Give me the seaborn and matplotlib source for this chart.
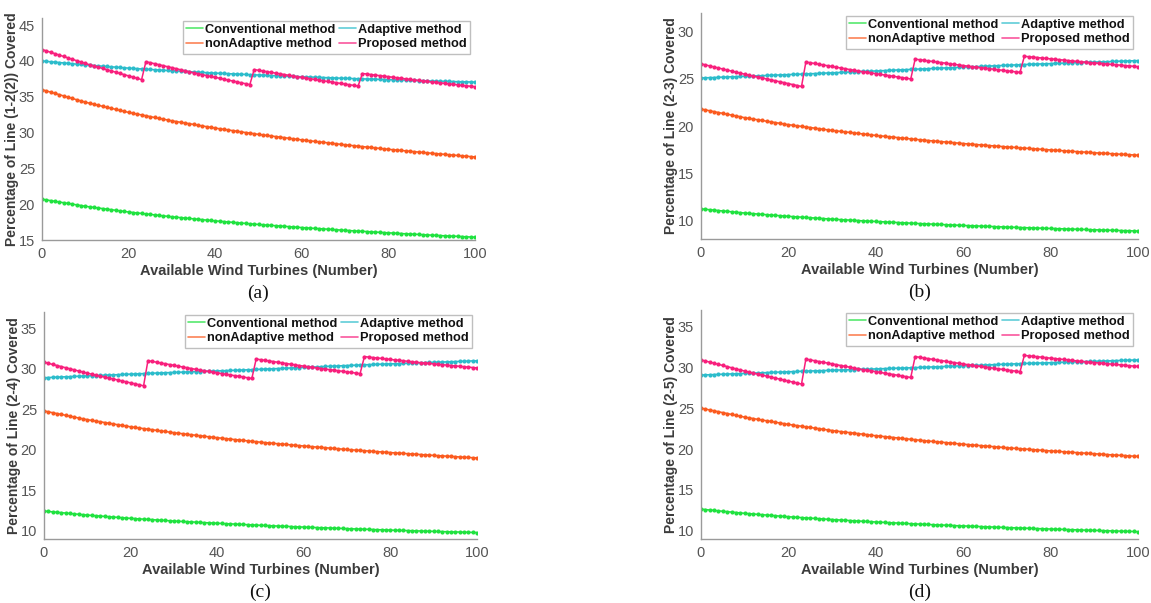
import matplotlib
matplotlib.use("Agg")
import matplotlib.pyplot as plt
from matplotlib.lines import Line2D
import seaborn as sns
import pandas as pd

# x axis: available wind turbines 0..100
turbines = list(range(101))
methods = ["Conventional method", "nonAdaptive method", "Adaptive method", "Proposed method"]
colors = ["#1fe23f", "#fb5a1e", "#2bbccb", "#f81f7c"]

# (a) line 1-2(2)
a_conventional = [
    20.70, 20.60, 20.50, 20.40, 20.30, 20.21, 20.11, 20.01, 19.91, 19.81,
    19.71, 19.63, 19.55, 19.47, 19.39, 19.31, 19.23, 19.15, 19.07, 18.99,
    18.91, 18.84, 18.78, 18.71, 18.64, 18.58, 18.51, 18.44, 18.37, 18.31,
    18.24, 18.18, 18.13, 18.07, 18.01, 17.96, 17.90, 17.84, 17.78, 17.73,
    17.67, 17.62, 17.57, 17.52, 17.47, 17.42, 17.37, 17.32, 17.27, 17.22,
    17.17, 17.13, 17.08, 17.04, 17.00, 16.96, 16.91, 16.87, 16.83, 16.78,
    16.74, 16.70, 16.66, 16.62, 16.59, 16.55, 16.51, 16.47, 16.43, 16.39,
    16.35, 16.32, 16.28, 16.25, 16.21, 16.18, 16.14, 16.11, 16.07, 16.04,
    16.00, 15.97, 15.94, 15.90, 15.87, 15.84, 15.81, 15.78, 15.74, 15.71,
    15.68, 15.65, 15.62, 15.59, 15.56, 15.54, 15.51, 15.48, 15.45, 15.42, 15.40]
a_nonadaptive = [
    36.00, 35.82, 35.65, 35.47, 35.30, 35.12, 34.94, 34.77, 34.59, 34.42,
    34.24, 34.10, 33.96, 33.81, 33.67, 33.53, 33.39, 33.25, 33.10, 32.96,
    32.82, 32.70, 32.58, 32.47, 32.35, 32.23, 32.11, 31.99, 31.88, 31.76,
    31.64, 31.54, 31.44, 31.34, 31.24, 31.14, 31.03, 30.93, 30.83, 30.73,
    30.63, 30.54, 30.45, 30.37, 30.28, 30.19, 30.10, 30.01, 29.93, 29.84,
    29.75, 29.67, 29.60, 29.52, 29.44, 29.37, 29.29, 29.21, 29.13, 29.06,
    28.98, 28.91, 28.84, 28.77, 28.70, 28.64, 28.57, 28.50, 28.43, 28.36,
    28.29, 28.23, 28.17, 28.10, 28.04, 27.98, 27.92, 27.86, 27.79, 27.73,
    27.67, 27.61, 27.56, 27.50, 27.45, 27.39, 27.33, 27.28, 27.22, 27.17,
    27.11, 27.06, 27.01, 26.96, 26.91, 26.86, 26.80, 26.75, 26.70, 26.65, 26.60]
a_adaptive = [
    40.00, 39.95, 39.89, 39.84, 39.78, 39.73, 39.67, 39.62, 39.56, 39.51,
    39.45, 39.41, 39.36, 39.32, 39.27, 39.23, 39.18, 39.14, 39.09, 39.05,
    39.00, 38.96, 38.93, 38.89, 38.85, 38.82, 38.78, 38.74, 38.70, 38.67,
    38.63, 38.60, 38.57, 38.53, 38.50, 38.47, 38.44, 38.41, 38.37, 38.34,
    38.31, 38.28, 38.26, 38.23, 38.20, 38.18, 38.15, 38.12, 38.09, 38.07,
    38.04, 38.02, 37.99, 37.97, 37.94, 37.92, 37.90, 37.87, 37.85, 37.82,
    37.80, 37.78, 37.76, 37.73, 37.71, 37.69, 37.67, 37.65, 37.62, 37.60,
    37.58, 37.56, 37.54, 37.52, 37.50, 37.49, 37.47, 37.45, 37.43, 37.41,
    37.39, 37.37, 37.35, 37.34, 37.32, 37.30, 37.28, 37.26, 37.25, 37.23,
    37.21, 37.19, 37.18, 37.16, 37.15, 37.13, 37.11, 37.10, 37.08, 37.07, 37.05]
a_proposed = [
    41.60, 41.41, 41.21, 41.02, 40.82, 40.63, 40.43, 40.24, 40.04, 39.85, 39.65,
    39.48, 39.30, 39.13, 38.96, 38.78, 38.61, 38.44, 38.26, 38.09, 37.92, 37.75, 37.57, 37.40,
    39.90, 39.76, 39.62, 39.48, 39.34, 39.20, 39.06, 38.92, 38.78, 38.64, 38.50, 38.36, 38.22,
    38.09, 37.97, 37.84, 37.71, 37.59, 37.46, 37.33, 37.21, 37.08, 36.95, 36.83, 36.70,
    38.80, 38.70, 38.60, 38.50, 38.40, 38.30, 38.20, 38.10, 38.00, 37.90, 37.80, 37.70, 37.60,
    37.51, 37.42, 37.32, 37.23, 37.14, 37.05, 36.96, 36.86, 36.77, 36.68, 36.59, 36.50,
    38.25, 38.18, 38.10, 38.03, 37.95, 37.88, 37.80, 37.73, 37.65, 37.58, 37.50, 37.43, 37.35, 37.28,
    37.21, 37.14, 37.07, 37.00, 36.94, 36.87, 36.80, 36.73, 36.67, 36.60, 36.53, 36.47, 36.40]

# (b) line 2-3
b_conventional = [
    11.20, 11.16, 11.11, 11.07, 11.02, 10.98, 10.94, 10.89, 10.85, 10.80,
    10.76, 10.72, 10.69, 10.65, 10.62, 10.58, 10.55, 10.51, 10.48, 10.44,
    10.41, 10.38, 10.35, 10.32, 10.29, 10.26, 10.23, 10.20, 10.17, 10.14,
    10.11, 10.08, 10.06, 10.03, 10.01, 9.98, 9.96, 9.93, 9.91, 9.88,
    9.86, 9.84, 9.82, 9.79, 9.77, 9.75, 9.73, 9.71, 9.68, 9.66,
    9.64, 9.62, 9.60, 9.58, 9.56, 9.54, 9.52, 9.50, 9.48, 9.46,
    9.44, 9.42, 9.41, 9.39, 9.37, 9.35, 9.34, 9.32, 9.30, 9.29,
    9.27, 9.25, 9.24, 9.22, 9.21, 9.19, 9.18, 9.16, 9.15, 9.13,
    9.12, 9.11, 9.09, 9.08, 9.06, 9.05, 9.04, 9.02, 9.01, 8.99,
    8.98, 8.97, 8.95, 8.94, 8.93, 8.92, 8.90, 8.89, 8.88, 8.86, 8.85]
b_nonadaptive = [
    21.80, 21.71, 21.62, 21.52, 21.43, 21.34, 21.25, 21.16, 21.07, 20.98,
    20.88, 20.81, 20.73, 20.66, 20.59, 20.51, 20.44, 20.36, 20.29, 20.21,
    20.14, 20.08, 20.02, 19.96, 19.90, 19.84, 19.77, 19.71, 19.65, 19.59,
    19.53, 19.48, 19.42, 19.37, 19.32, 19.27, 19.21, 19.16, 19.11, 19.05,
    19.00, 18.95, 18.91, 18.86, 18.82, 18.77, 18.72, 18.68, 18.63, 18.59,
    18.54, 18.50, 18.46, 18.42, 18.38, 18.34, 18.30, 18.26, 18.22, 18.18,
    18.14, 18.10, 18.07, 18.03, 18.00, 17.96, 17.92, 17.89, 17.85, 17.82,
    17.78, 17.75, 17.72, 17.68, 17.65, 17.62, 17.59, 17.56, 17.52, 17.49,
    17.46, 17.43, 17.40, 17.37, 17.34, 17.31, 17.28, 17.25, 17.22, 17.19,
    17.16, 17.13, 17.11, 17.08, 17.06, 17.03, 17.00, 16.98, 16.95, 16.93, 16.90]
b_adaptive = [
    25.10, 25.12, 25.14, 25.15, 25.17, 25.19, 25.21, 25.23, 25.24, 25.26,
    25.28, 25.30, 25.32, 25.33, 25.35, 25.37, 25.39, 25.41, 25.42, 25.44,
    25.46, 25.48, 25.50, 25.51, 25.53, 25.55, 25.57, 25.59, 25.61, 25.63,
    25.65, 25.67, 25.69, 25.71, 25.73, 25.75, 25.77, 25.79, 25.81, 25.83,
    25.85, 25.87, 25.89, 25.91, 25.93, 25.95, 25.97, 25.99, 26.01, 26.03,
    26.05, 26.07, 26.09, 26.11, 26.13, 26.15, 26.17, 26.19, 26.21, 26.23,
    26.25, 26.27, 26.29, 26.31, 26.33, 26.35, 26.37, 26.39, 26.41, 26.43,
    26.45, 26.47, 26.49, 26.51, 26.53, 26.55, 26.57, 26.58, 26.60, 26.61,
    26.63, 26.65, 26.66, 26.68, 26.69, 26.71, 26.73, 26.74, 26.76, 26.77,
    26.79, 26.81, 26.82, 26.84, 26.85, 26.87, 26.89, 26.90, 26.92, 26.93, 26.95]
b_proposed = [
    26.60, 26.49, 26.38, 26.27, 26.16, 26.05, 25.94, 25.83, 25.72, 25.61, 25.50,
    25.40, 25.30, 25.20, 25.10, 25.00, 24.90, 24.80, 24.70, 24.60, 24.50, 24.40, 24.30, 24.20,
    26.80, 26.72, 26.64, 26.56, 26.48, 26.40, 26.32, 26.24, 26.16, 26.08, 26.00, 25.92, 25.84,
    25.77, 25.70, 25.63, 25.56, 25.49, 25.42, 25.35, 25.28, 25.21, 25.14, 25.07, 25.00,
    27.10, 27.04, 26.98, 26.91, 26.85, 26.79, 26.73, 26.67, 26.60, 26.54, 26.48, 26.42, 26.36,
    26.30, 26.25, 26.19, 26.14, 26.08, 26.03, 25.97, 25.92, 25.86, 25.81, 25.75, 25.70,
    27.40, 27.36, 27.31, 27.27, 27.22, 27.18, 27.13, 27.09, 27.04, 27.00, 26.95, 26.91, 26.86, 26.82,
    26.78, 26.74, 26.70, 26.66, 26.62, 26.58, 26.54, 26.50, 26.46, 26.42, 26.38, 26.34, 26.30]

# (c) line 2-4
c_conventional = [
    12.45, 12.40, 12.35, 12.30, 12.25, 12.20, 12.15, 12.10, 12.05, 12.00,
    11.95, 11.91, 11.87, 11.83, 11.79, 11.75, 11.71, 11.67, 11.63, 11.59,
    11.55, 11.52, 11.48, 11.45, 11.42, 11.39, 11.35, 11.32, 11.29, 11.25,
    11.22, 11.19, 11.16, 11.14, 11.11, 11.08, 11.05, 11.02, 11.00, 10.97,
    10.94, 10.92, 10.89, 10.87, 10.84, 10.82, 10.79, 10.77, 10.74, 10.72,
    10.69, 10.67, 10.65, 10.62, 10.60, 10.58, 10.56, 10.54, 10.51, 10.49,
    10.47, 10.45, 10.43, 10.41, 10.39, 10.38, 10.36, 10.34, 10.32, 10.30,
    10.28, 10.26, 10.24, 10.23, 10.21, 10.19, 10.17, 10.15, 10.14, 10.12,
    10.10, 10.08, 10.07, 10.05, 10.04, 10.02, 10.00, 9.99, 9.97, 9.96,
    9.94, 9.93, 9.91, 9.90, 9.88, 9.87, 9.86, 9.84, 9.83, 9.81, 9.80]
c_nonadaptive = [
    24.80, 24.69, 24.58, 24.47, 24.37, 24.26, 24.15, 24.04, 23.93, 23.82,
    23.72, 23.63, 23.54, 23.46, 23.37, 23.28, 23.19, 23.10, 23.02, 22.93,
    22.84, 22.77, 22.69, 22.62, 22.55, 22.48, 22.40, 22.33, 22.26, 22.18,
    22.11, 22.05, 21.99, 21.92, 21.86, 21.80, 21.74, 21.68, 21.61, 21.55,
    21.49, 21.44, 21.38, 21.33, 21.27, 21.22, 21.16, 21.11, 21.05, 21.00,
    20.94, 20.89, 20.85, 20.80, 20.75, 20.71, 20.66, 20.61, 20.56, 20.52,
    20.47, 20.43, 20.38, 20.34, 20.30, 20.26, 20.21, 20.17, 20.13, 20.08,
    20.04, 20.00, 19.96, 19.93, 19.89, 19.85, 19.81, 19.77, 19.74, 19.70,
    19.66, 19.63, 19.59, 19.56, 19.52, 19.49, 19.45, 19.42, 19.38, 19.35,
    19.31, 19.28, 19.25, 19.22, 19.19, 19.16, 19.12, 19.09, 19.06, 19.03, 19.00]
c_adaptive = [
    28.90, 28.92, 28.94, 28.97, 28.99, 29.01, 29.03, 29.05, 29.08, 29.10,
    29.12, 29.14, 29.16, 29.19, 29.21, 29.23, 29.25, 29.27, 29.30, 29.32,
    29.34, 29.36, 29.38, 29.41, 29.43, 29.45, 29.47, 29.49, 29.51, 29.53,
    29.55, 29.57, 29.58, 29.60, 29.62, 29.64, 29.66, 29.68, 29.70, 29.72,
    29.74, 29.76, 29.77, 29.79, 29.81, 29.83, 29.85, 29.87, 29.89, 29.91,
    29.94, 29.96, 29.98, 30.00, 30.03, 30.05, 30.07, 30.10, 30.12, 30.14,
    30.17, 30.19, 30.21, 30.24, 30.26, 30.28, 30.31, 30.33, 30.35, 30.38,
    30.40, 30.42, 30.44, 30.47, 30.49, 30.51, 30.53, 30.55, 30.57, 30.59,
    30.61, 30.62, 30.64, 30.66, 30.68, 30.70, 30.72, 30.74, 30.76, 30.78,
    30.80, 30.81, 30.83, 30.85, 30.87, 30.89, 30.91, 30.93, 30.95, 30.97, 30.98]
c_proposed = [
    30.80, 30.67, 30.53, 30.40, 30.26, 30.13, 29.99, 29.86, 29.72, 29.59, 29.45,
    29.33, 29.21, 29.09, 28.97, 28.85, 28.74, 28.62, 28.50, 28.38, 28.26, 28.14, 28.02, 27.90,
    31.00, 30.90, 30.81, 30.71, 30.61, 30.52, 30.42, 30.32, 30.22, 30.13, 30.03, 29.93, 29.84,
    29.75, 29.67, 29.58, 29.50, 29.41, 29.33, 29.24, 29.15, 29.07, 28.98, 28.89, 28.80,
    31.20, 31.12, 31.04, 30.96, 30.88, 30.80, 30.72, 30.64, 30.56, 30.48, 30.40, 30.32, 30.24,
    30.17, 30.10, 30.03, 29.96, 29.89, 29.82, 29.75, 29.68, 29.61, 29.54, 29.47, 29.40,
    31.50, 31.44, 31.38, 31.33, 31.27, 31.21, 31.15, 31.09, 31.04, 30.98, 30.92, 30.86, 30.80, 30.75,
    30.70, 30.65, 30.60, 30.55, 30.50, 30.45, 30.40, 30.35, 30.30, 30.25, 30.20, 30.15, 30.10]

# (d) line 2-5
d_conventional = [
    12.65, 12.60, 12.55, 12.50, 12.44, 12.39, 12.34, 12.29, 12.24, 12.19,
    12.14, 12.10, 12.06, 12.01, 11.97, 11.93, 11.89, 11.85, 11.80, 11.76,
    11.72, 11.69, 11.65, 11.62, 11.58, 11.55, 11.52, 11.48, 11.45, 11.41,
    11.38, 11.35, 11.32, 11.29, 11.26, 11.23, 11.20, 11.17, 11.14, 11.11,
    11.08, 11.05, 11.03, 11.00, 10.98, 10.95, 10.92, 10.90, 10.87, 10.85,
    10.82, 10.80, 10.78, 10.75, 10.73, 10.71, 10.69, 10.67, 10.64, 10.62,
    10.60, 10.58, 10.56, 10.54, 10.52, 10.50, 10.48, 10.46, 10.44, 10.42,
    10.40, 10.38, 10.36, 10.35, 10.33, 10.31, 10.29, 10.27, 10.26, 10.24,
    10.22, 10.20, 10.19, 10.17, 10.15, 10.14, 10.12, 10.10, 10.08, 10.07,
    10.05, 10.04, 10.02, 10.01, 9.99, 9.98, 9.96, 9.95, 9.93, 9.92, 9.90]
d_nonadaptive = [
    25.00, 24.89, 24.78, 24.67, 24.56, 24.45, 24.34, 24.23, 24.12, 24.01,
    23.90, 23.81, 23.72, 23.63, 23.54, 23.46, 23.37, 23.28, 23.19, 23.10,
    23.01, 22.94, 22.86, 22.79, 22.71, 22.64, 22.56, 22.49, 22.41, 22.34,
    22.26, 22.20, 22.13, 22.07, 22.01, 21.95, 21.88, 21.82, 21.76, 21.69,
    21.63, 21.58, 21.52, 21.47, 21.41, 21.36, 21.30, 21.25, 21.19, 21.14,
    21.08, 21.03, 20.98, 20.93, 20.88, 20.84, 20.79, 20.74, 20.69, 20.64,
    20.59, 20.55, 20.50, 20.46, 20.42, 20.38, 20.33, 20.29, 20.25, 20.20,
    20.16, 20.12, 20.08, 20.04, 20.00, 19.97, 19.93, 19.89, 19.85, 19.81,
    19.77, 19.74, 19.70, 19.67, 19.63, 19.60, 19.56, 19.53, 19.49, 19.46,
    19.42, 19.39, 19.36, 19.32, 19.29, 19.26, 19.23, 19.20, 19.16, 19.13, 19.10]
d_adaptive = [
    29.05, 29.07, 29.09, 29.11, 29.13, 29.15, 29.17, 29.19, 29.21, 29.23,
    29.25, 29.27, 29.29, 29.31, 29.33, 29.35, 29.37, 29.39, 29.41, 29.43,
    29.45, 29.47, 29.49, 29.51, 29.53, 29.55, 29.56, 29.58, 29.60, 29.61,
    29.63, 29.65, 29.67, 29.68, 29.70, 29.72, 29.73, 29.75, 29.77, 29.78,
    29.80, 29.82, 29.84, 29.85, 29.87, 29.89, 29.90, 29.92, 29.94, 29.96,
    29.98, 30.00, 30.02, 30.04, 30.06, 30.08, 30.10, 30.12, 30.14, 30.16,
    30.18, 30.20, 30.22, 30.24, 30.26, 30.28, 30.30, 30.32, 30.34, 30.36,
    30.38, 30.40, 30.42, 30.44, 30.46, 30.48, 30.49, 30.51, 30.53, 30.54,
    30.56, 30.58, 30.60, 30.61, 30.63, 30.65, 30.66, 30.68, 30.70, 30.71,
    30.73, 30.75, 30.77, 30.78, 30.80, 30.82, 30.83, 30.85, 30.87, 30.88, 30.90]
d_proposed = [
    30.90, 30.76, 30.63, 30.49, 30.35, 30.22, 30.08, 29.94, 29.80, 29.67, 29.53,
    29.41, 29.29, 29.16, 29.04, 28.92, 28.80, 28.68, 28.55, 28.43, 28.31, 28.19, 28.07, 27.95,
    31.00, 30.90, 30.80, 30.70, 30.60, 30.51, 30.41, 30.31, 30.21, 30.11, 30.01, 29.91, 29.81,
    29.72, 29.64, 29.55, 29.46, 29.37, 29.28, 29.20, 29.11, 29.02, 28.93, 28.84, 28.75,
    31.30, 31.22, 31.14, 31.05, 30.97, 30.89, 30.81, 30.73, 30.64, 30.56, 30.48, 30.40, 30.32,
    30.24, 30.17, 30.10, 30.03, 29.96, 29.88, 29.81, 29.74, 29.67, 29.60, 29.52, 29.45,
    31.45, 31.39, 31.34, 31.28, 31.23, 31.17, 31.11, 31.06, 31.00, 30.95, 30.89, 30.83, 30.78, 30.72,
    30.67, 30.62, 30.58, 30.53, 30.48, 30.43, 30.38, 30.34, 30.29, 30.24, 30.19, 30.14, 30.10]

panels = [
    ("(a)", "Percentage of Line (1-2(2)) Covered", [a_conventional, a_nonadaptive, a_adaptive, a_proposed],
     (15, 46), [15, 20, 25, 30, 35, 40, 45], (42, 18, 475, 240)),
    ("(b)", "Percentage of Line (2-3) Covered", [b_conventional, b_nonadaptive, b_adaptive, b_proposed],
     (8, 32), [10, 15, 20, 25, 30], (701, 13, 1138, 239)),
    ("(c)", "Percentage of Line (2-4) Covered", [c_conventional, c_nonadaptive, c_adaptive, c_proposed],
     (9, 37), [10, 15, 20, 25, 30, 35], (44, 312, 477, 539)),
    ("(d)", "Percentage of Line (2-5) Covered", [d_conventional, d_nonadaptive, d_adaptive, d_proposed],
     (9, 37), [10, 15, 20, 25, 30, 35], (701, 310, 1138, 539)),
]

W, H = 1151, 603
sns.set_theme(style="white")
plt.rcParams["font.family"] = ["Liberation Sans", "DejaVu Sans"]
fig = plt.figure(figsize=(W / 100, H / 100), dpi=100)

tick_color = "#555555"
label_color = "#3c3c3c"

for letter, ylab, series, ylim, yticks, (l, t, r, b) in panels:
    for s in series:
        assert len(s) == len(turbines), (letter, len(s))
    ax = fig.add_axes([l / W, 1 - b / H, (r - l) / W, (b - t) / H])
    df = pd.DataFrame({
        "x": turbines * 4,
        "y": [v for s in series for v in s],
        "method": [m for m in methods for _ in turbines],
    })
    sns.lineplot(data=df, x="x", y="y", hue="method", hue_order=methods,
                 palette=colors, marker="o", markersize=3.0, markeredgewidth=0,
                 linewidth=1.1, legend=False, ax=ax)
    ax.set_xlim(0, 100)
    ax.set_ylim(*ylim)
    ax.set_xticks([0, 20, 40, 60, 80, 100])
    ax.set_yticks(yticks)
    ax.tick_params(direction="in", length=3.5, width=0.8, colors="#888888",
                   labelcolor=tick_color, labelsize=10.5, pad=5)
    for side in ["top", "right"]:
        ax.spines[side].set_visible(False)
    for side in ["left", "bottom"]:
        ax.spines[side].set_color("#9a9a9a")
        ax.spines[side].set_linewidth(1.0)
    ax.set_xlabel("Available Wind Turbines (Number)", fontsize=10.5, fontweight="bold",
                  color=label_color, labelpad=2)
    ax.set_ylabel(ylab, fontsize=10, fontweight="bold", color=label_color)
    ax.yaxis.set_label_coords(-23 / (r - l), 0.5)
    handles = [Line2D([], [], color=c, lw=1.2, alpha=0.75) for c in colors]
    leg = ax.legend(handles, methods, ncol=2, loc="upper right", bbox_to_anchor=(0.995, 1.0),
                    prop={"weight": "bold", "size": 9.2}, frameon=True, fancybox=False,
                    edgecolor="#b0b0b0", borderpad=0.25, handlelength=1.35,
                    handletextpad=0.15, columnspacing=0.3, labelspacing=0.2,
                    borderaxespad=0.2)
    leg.get_frame().set_linewidth(1.0)
    for txt in leg.get_texts():
        txt.set_color("#111111")
    cx = (l + r) / 2 / W
    fig.text(cx, 1 - (b + 53) / H, letter, ha="center", va="center",
             fontsize=14, family=["Liberation Serif", "DejaVu Serif"], color="#111111")

fig.savefig("out.png", dpi=100)
